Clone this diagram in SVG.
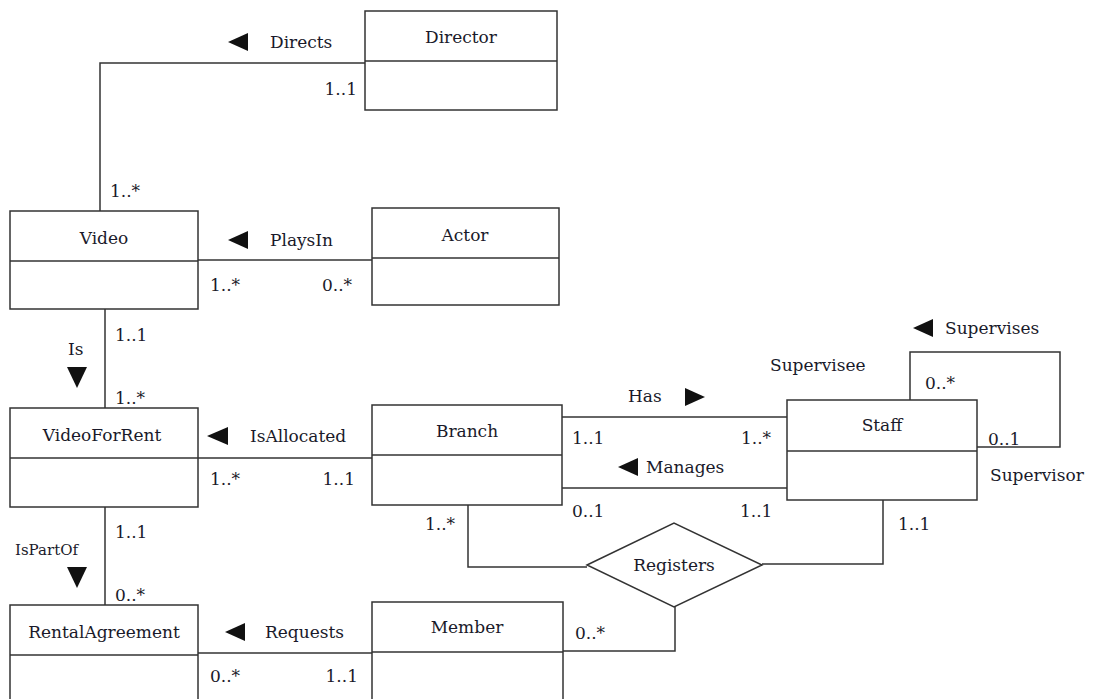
<svg xmlns="http://www.w3.org/2000/svg" width="1093" height="699" viewBox="0 0 1093 699">
<style>
.box{fill:#fff;stroke:#333;stroke-width:1.5}
.ln{fill:none;stroke:#333;stroke-width:1.5}
text{font-family:"DejaVu Serif","Liberation Serif",serif;font-size:17px;fill:#1a1a2a}
.c{text-anchor:middle}
.e{text-anchor:end}
.tri{fill:#111}
</style>
<rect width="1093" height="699" fill="#fff"/>
<g id="connectors">
<polyline class="ln" points="100,211 100,63 365,63"/>
<line class="ln" x1="198" y1="260" x2="372" y2="260"/>
<line class="ln" x1="105" y1="309" x2="105" y2="408"/>
<line class="ln" x1="198" y1="458" x2="372" y2="458"/>
<line class="ln" x1="105" y1="507" x2="105" y2="605"/>
<line class="ln" x1="198" y1="653" x2="372" y2="653"/>
<line class="ln" x1="562" y1="417" x2="787" y2="417"/>
<line class="ln" x1="562" y1="488" x2="787" y2="488"/>
<polyline class="ln" points="910,400 910,352 1060,352 1060,447 977,447"/>
<polyline class="ln" points="468,505 468,567 587,567"/>
<polyline class="ln" points="883,500 883,564 762,564"/>
<polyline class="ln" points="675,607 675,651 563,651"/>
<polygon class="tri" points="228,42 248,33 248,51"/>
<text x="270" y="48">Directs</text>
<text class="e" x="357" y="95">1..1</text>
<text x="110" y="197">1..*</text>
<polygon class="tri" points="228,240 248,231 248,249"/>
<text x="270" y="246">PlaysIn</text>
<text x="210" y="291">1..*</text>
<text x="322" y="291">0..*</text>
<text x="115" y="341">1..1</text>
<text x="68" y="355">Is</text>
<polygon class="tri" points="67,367 87,367 77,388"/>
<text x="115" y="404">1..*</text>
<polygon class="tri" points="207,436 228,427 228,445"/>
<text x="250" y="442">IsAllocated</text>
<text x="210" y="485">1..*</text>
<text class="e" x="355" y="485">1..1</text>
<text x="115" y="538">1..1</text>
<text x="15" y="555" style="font-size:15px">IsPartOf</text>
<polygon class="tri" points="67,567 87,567 77,588"/>
<text x="115" y="601">0..*</text>
<polygon class="tri" points="225,632 245,623 245,641"/>
<text x="265" y="638">Requests</text>
<text x="210" y="682">0..*</text>
<text class="e" x="358" y="682">1..1</text>
<text x="628" y="402">Has</text>
<polygon class="tri" points="705,397 685,388 685,406"/>
<text x="572" y="444">1..1</text>
<text x="741" y="444">1..*</text>
<polygon class="tri" points="618,467 638,458 638,476"/>
<text x="646" y="473">Manages</text>
<text x="572" y="517">0..1</text>
<text x="740" y="517">1..1</text>
<polygon class="tri" points="913,328 933,319 933,337"/>
<text x="945" y="334">Supervises</text>
<text x="770" y="371">Supervisee</text>
<text x="925" y="389">0..*</text>
<text x="988" y="445">0..1</text>
<text x="990" y="481">Supervisor</text>
<text x="425" y="530">1..*</text>
<text x="898" y="530">1..1</text>
<text x="575" y="639">0..*</text>
</g>
<g id="Director"><rect class="box" x="365" y="11" width="192" height="99"/><line class="ln" x1="365" y1="61" x2="557" y2="61"/><text class="c" x="461" y="43">Director</text></g>
<g id="Video"><rect class="box" x="10" y="211" width="188" height="98"/><line class="ln" x1="10" y1="261" x2="198" y2="261"/><text class="c" x="104" y="244">Video</text></g>
<g id="Actor"><rect class="box" x="372" y="208" width="187" height="97"/><line class="ln" x1="372" y1="258" x2="559" y2="258"/><text class="c" x="465" y="241">Actor</text></g>
<g id="VideoForRent"><rect class="box" x="10" y="408" width="188" height="99"/><line class="ln" x1="10" y1="458" x2="198" y2="458"/><text class="c" x="102" y="441">VideoForRent</text></g>
<g id="Branch"><rect class="box" x="372" y="405" width="190" height="100"/><line class="ln" x1="372" y1="455" x2="562" y2="455"/><text class="c" x="467" y="437">Branch</text></g>
<g id="Staff"><rect class="box" x="787" y="400" width="190" height="100"/><line class="ln" x1="787" y1="451" x2="977" y2="451"/><text class="c" x="882" y="431">Staff</text></g>
<g id="RentalAgreement"><rect class="box" x="10" y="605" width="188" height="100"/><line class="ln" x1="10" y1="655" x2="198" y2="655"/><text class="c" x="104" y="638">RentalAgreement</text></g>
<g id="Member"><rect class="box" x="372" y="602" width="191" height="103"/><line class="ln" x1="372" y1="652" x2="563" y2="652"/><text class="c" x="467" y="633">Member</text></g>
<g id="Registers"><polygon class="box" points="587,565 674,523 762,565 674,607"/><text class="c" x="674" y="571">Registers</text></g>
</svg>
